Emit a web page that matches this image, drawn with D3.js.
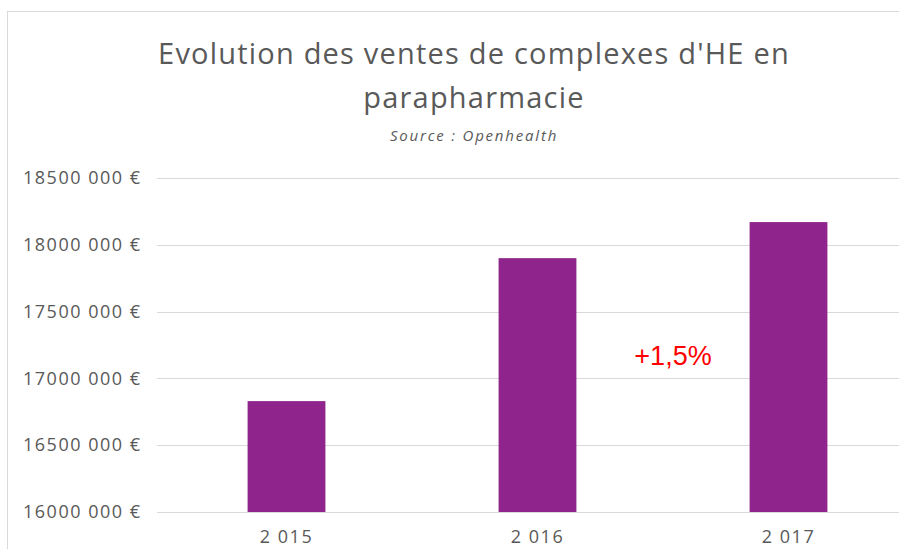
<!DOCTYPE html>
<html>
<head>
<meta charset="utf-8">
<script src="https://cdnjs.cloudflare.com/ajax/libs/d3/7.8.5/d3.min.js"></script>
<style>
  body { margin: 0; background: #fff; }
  svg { display: block; }
</style>
</head>
<body>
<div id="chart"></div>
<script>
// Data
const years = ['2 015', '2 016', '2 017'];
const sales = [16830000, 17900000, 18170000];
const yTicks = [16000000, 16500000, 17000000, 17500000, 18000000, 18500000];
const titleLines = ["Evolution des ventes de complexes d'HE en", 'parapharmacie'];
const sourceText = 'Source : Openhealth';
const annotation = '+1,5%';

const W = 899, H = 549;
const font = "'Open Sans', 'Noto Sans', sans-serif";

const svg = d3.select('#chart')
    .append('svg')
    .attr('width', W)
    .attr('height', H);

// chart frame (only top and left edges visible)
svg.append('line')
    .attr('x1', 7).attr('x2', W).attr('y1', 11.5).attr('y2', 11.5)
    .attr('stroke', '#d9d9d9');
svg.append('line')
    .attr('x1', 7.5).attr('x2', 7.5).attr('y1', 11).attr('y2', H)
    .attr('stroke', '#d9d9d9');

// Scales
const x = d3.scaleBand()
    .domain(years)
    .range([161, 914])
    .paddingInner(0.69)
    .paddingOuter(0.345);

const y = d3.scaleLinear()
    .domain([16000000, 18500000])
    .range([512, 178]);

const fmt = v => {
    const s = String(v);
    return s.slice(0, s.length - 3) + ' ' + s.slice(-3) + ' €';
};

// Gridlines
svg.append('g')
    .selectAll('line')
    .data(yTicks)
    .enter()
    .append('line')
    .attr('x1', 157)
    .attr('x2', W)
    .attr('y1', d => Math.round(y(d)) + 0.5)
    .attr('y2', d => Math.round(y(d)) + 0.5)
    .attr('stroke', '#d9d9d9')
    .attr('stroke-width', 1);

// Y axis labels
const yAxis = svg.append('g')
    .attr('transform', 'translate(141.5,0)')
    .call(d3.axisLeft(y).tickValues(yTicks).tickFormat(fmt).tickSize(0).tickPadding(0));
yAxis.select('.domain').remove();
yAxis.selectAll('text')
    .attr('fill', '#595959')
    .style('font-family', font)
    .style('font-size', '18px')
    .style('letter-spacing', '1.5px');

// Bars
svg.selectAll('.bar')
    .data(sales)
    .enter()
    .append('rect')
    .attr('class', 'bar')
    .attr('x', (d, i) => x(years[i]))
    .attr('y', d => y(d))
    .attr('width', x.bandwidth())
    .attr('height', d => y(16000000) - y(d))
    .attr('fill', '#8e248c');

// X axis labels (kept just inside the bottom edge)
const xAxis = svg.append('g')
    .attr('transform', 'translate(0,512)')
    .call(d3.axisBottom(x).tickSize(0).tickPadding(18));
xAxis.select('.domain').remove();
xAxis.selectAll('text')
    .attr('fill', '#595959')
    .style('font-family', font)
    .style('font-size', '18px')
    .style('letter-spacing', '1.5px');

// Title
svg.append('g')
    .selectAll('text')
    .data(titleLines)
    .enter()
    .append('text')
    .attr('x', 474)
    .attr('y', (d, i) => 64 + i * 44)
    .attr('text-anchor', 'middle')
    .attr('fill', '#595959')
    .style('font-family', font)
    .style('font-size', '29px')
    .style('letter-spacing', '1.2px')
    .text(d => d);

svg.append('text')
    .attr('x', 474)
    .attr('y', 141)
    .attr('text-anchor', 'middle')
    .attr('fill', '#595959')
    .style('font-family', font)
    .style('font-size', '15px')
    .style('font-style', 'italic')
    .style('letter-spacing', '1.8px')
    .text(sourceText);

// Annotation
svg.append('text')
    .attr('x', 673)
    .attr('y', 365)
    .attr('text-anchor', 'middle')
    .attr('fill', '#ff0000')
    .style('font-family', "'Liberation Sans', Arial, sans-serif")
    .style('font-size', '27px')
    .text(annotation);
</script>
</body>
</html>
